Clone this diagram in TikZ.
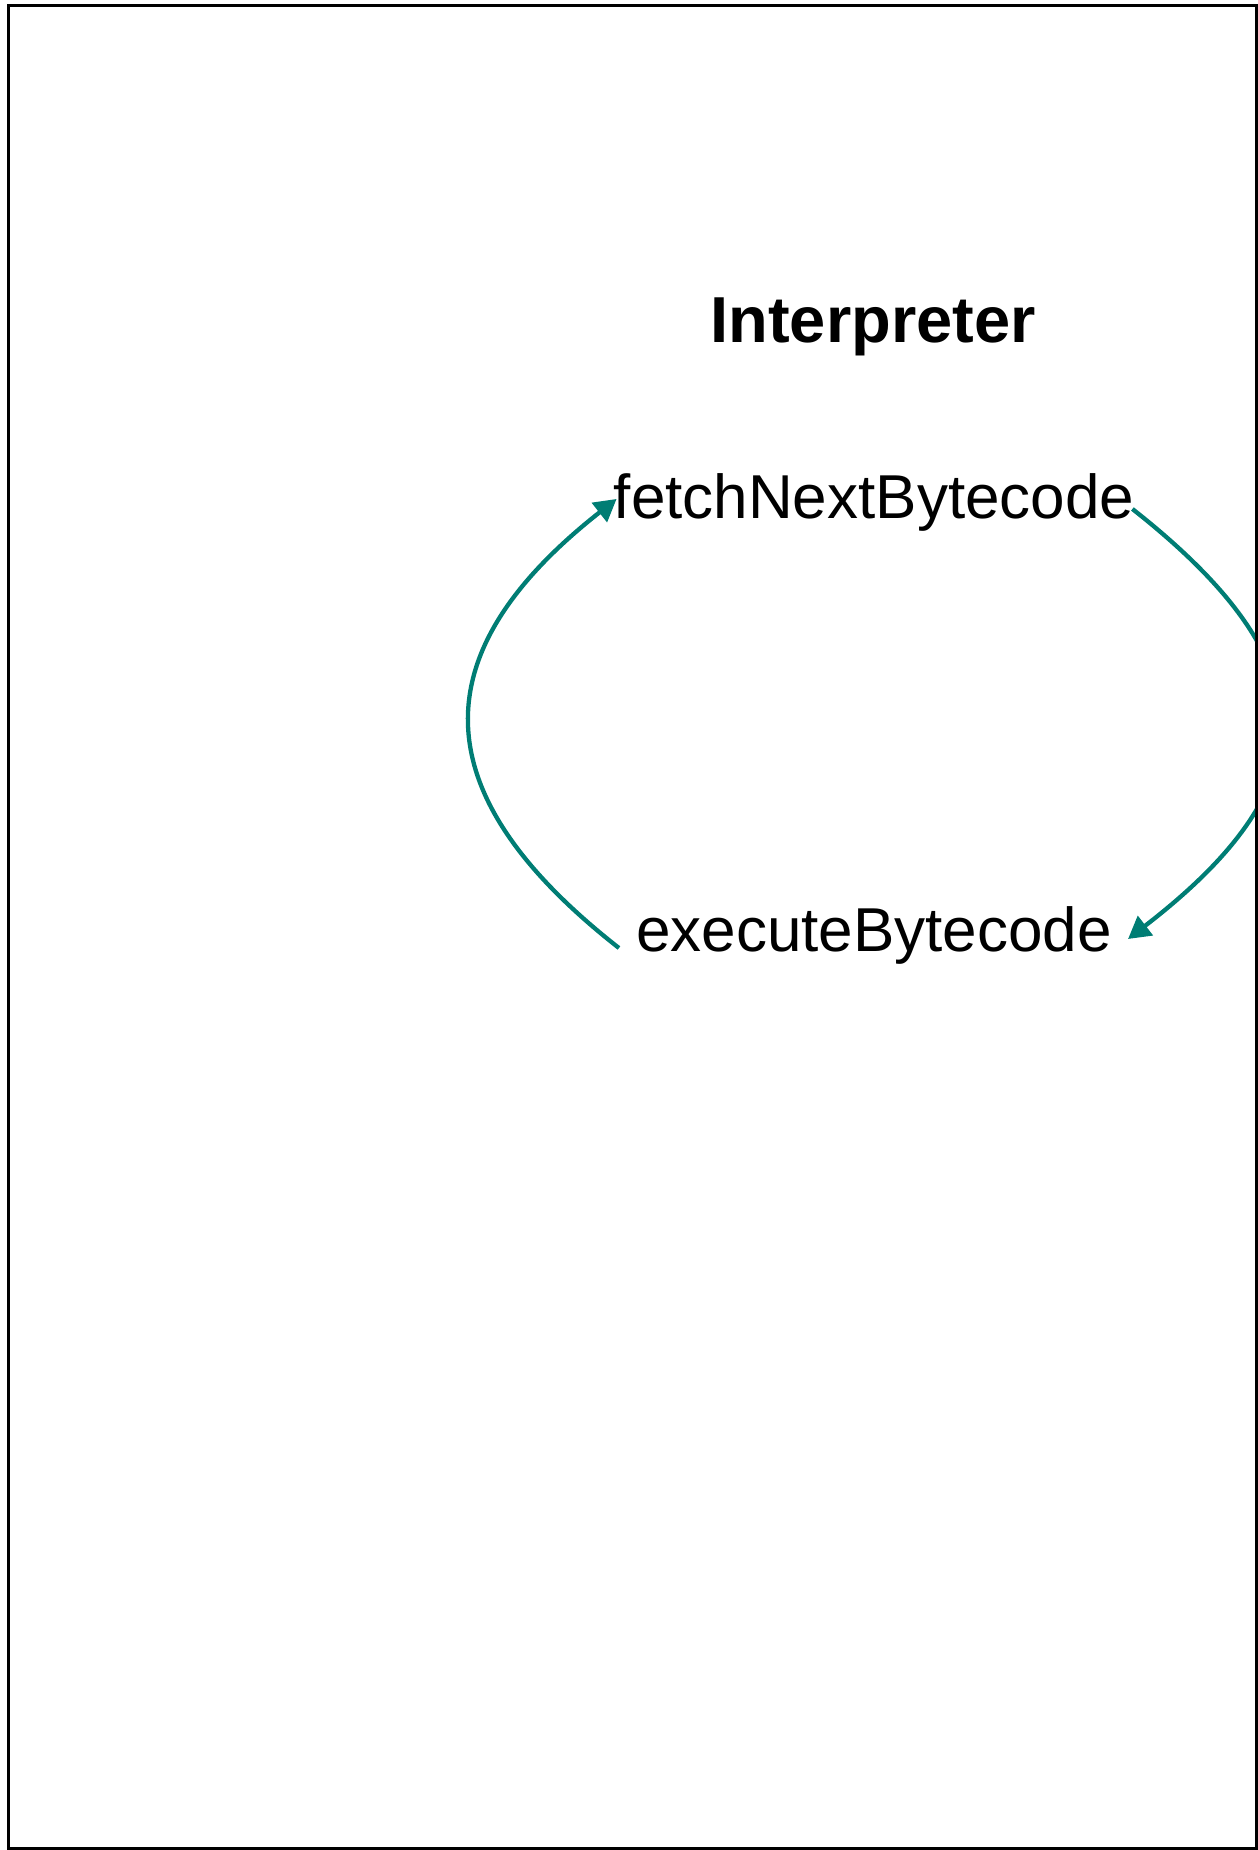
\documentclass[tikz,border=0pt]{standalone}
\usepackage{fontspec}
\setmainfont{Liberation Sans}
\usetikzlibrary{arrows.meta}
\definecolor{loopteal}{RGB}{0,125,116}
\tikzset{
  stagelabel/.style={inner sep=0pt, anchor=base, font=\fontsize{62}{70}\selectfont},
  loopedge/.style={draw=loopteal, line width=4.3pt, -{Triangle[length=22pt,width=24pt]}}
}
\begin{document}
\begin{tikzpicture}[x=1pt,y=-1pt]
  \useasboundingbox (0,0) rectangle (1258,1850);
  \draw[line width=3pt] (8.5,5.5) rectangle (1256.5,1848.5);

  \node[inner sep=0pt, anchor=base, font=\bfseries\fontsize{65}{72}\selectfont] (title) at (873,342) {Interpreter};
  \node[stagelabel] (fetch) at (874,518) {fetchNextBytecode};
  \node[stagelabel] (exec) at (874,951) {executeBytecode};

  \begin{scope}
    \clip (10,7) rectangle (1255,1847);
    \draw[loopedge] ([shift={(-17pt,3pt)}]exec.base west) .. controls +(-198,-155) and +(-196,154) .. ([shift={(3pt,3pt)}]fetch.west);
    \draw[loopedge] ([shift={(-2pt,-7pt)}]fetch.east) .. controls +(197,155) and +(201,-155) .. ([shift={(16pt,-4pt)}]exec.east);
  \end{scope}
\end{tikzpicture}
\end{document}
